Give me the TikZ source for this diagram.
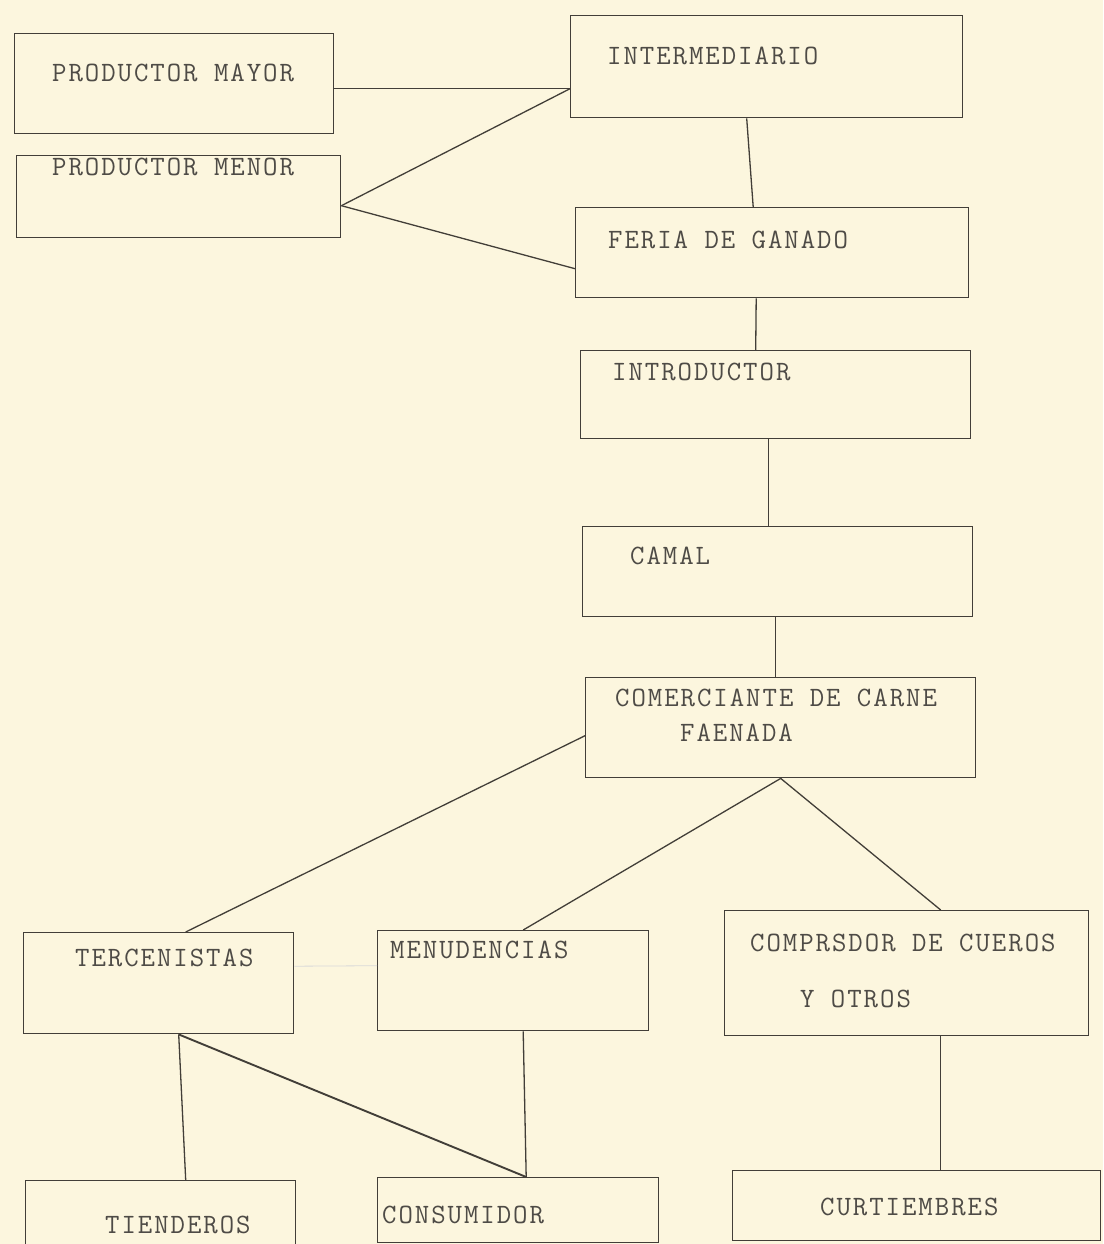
\documentclass[tikz,border=0pt]{standalone}
\usepackage{fontspec}
\newfontfamily\tw[LetterSpace=7]{Latin Modern Mono}
\usetikzlibrary{calc}
\definecolor{paper}{RGB}{252,246,222}
\definecolor{ink}{RGB}{66,62,56}
\definecolor{txt}{RGB}{78,75,70}
\tikzset{
  box/.style={draw=ink, line width=1.4pt, rectangle, anchor=north west, inner sep=0pt},
  lbl/.style={anchor=west, inner sep=0pt, text=txt, font=\tw\fontsize{28}{31}\selectfont},
  conn/.style={draw=ink, line width=1.3pt},
  faint/.style={draw=gray!30, line width=0.8pt},
}
\begin{document}
\begin{tikzpicture}[x=1pt,y=-1pt]
\useasboundingbox (0,0) rectangle (1103,1244);
\fill[paper] (0,0) rectangle (1103,1244);
\clip (0,0) rectangle (1103,1244);

% boxes
\node[box, minimum width=319pt, minimum height=100pt] (mayor)  at (14,33)   {};
\node[box, minimum width=324pt, minimum height=82pt]  (menor)  at (16,155)  {};
\node[box, minimum width=392pt, minimum height=102pt] (interm) at (570,15)  {};
\node[box, minimum width=393pt, minimum height=90pt]  (feria)  at (575,207) {};
\node[box, minimum width=390pt, minimum height=88pt]  (intro)  at (580,350) {};
\node[box, minimum width=390pt, minimum height=90pt]  (camal)  at (582,526) {};
\node[box, minimum width=390pt, minimum height=100pt] (comer)  at (585,677) {};
\node[box, minimum width=270pt, minimum height=101pt] (terc)   at (23,932)  {};
\node[box, minimum width=271pt, minimum height=100pt] (menu)   at (377,930) {};
\node[box, minimum width=364pt, minimum height=125pt] (comp)   at (724,910) {};
\node[box, minimum width=270pt, minimum height=72pt]  (tiend)  at (25,1180) {};
\node[box, minimum width=281pt, minimum height=65pt]  (cons)   at (377,1177) {};
\node[box, minimum width=368pt, minimum height=70pt]  (curt)   at (732,1170) {};

% texts
\node[lbl] (tmayor)  at (52,73)    {PRODUCTOR MAYOR};
\node[lbl] (tmenor)  at (52,167)   {PRODUCTOR MENOR};
\node[lbl] (tinterm) at (607,56)   {INTERMEDIARIO};
\node[lbl] (tferia)  at (608,240)  {FERIA DE GANADO};
\node[lbl] (tintro)  at (612,372)  {INTRODUCTOR};
\node[lbl] (tcamal)  at (630,556)  {CAMAL};
\node[lbl] (tcomer1) at (615,698)  {COMERCIANTE DE CARNE};
\node[lbl] (tcomer2) at (680,733)  {FAENADA};
\node[lbl] (tterc)   at (75,958)   {TERCENISTAS};
\node[lbl] (tmenu)   at (390,950)  {MENUDENCIAS};
\node[lbl] (tcomp1)  at (750,943)  {COMPRSDOR DE CUEROS};
\node[lbl] (tcomp2)  at (800,999)  {Y OTROS};
\node[lbl] (ttiend)  at (105,1225) {TIENDEROS};
\node[lbl] (tcons)   at (382,1215) {CONSUMIDOR};
\node[lbl] (tcurt)   at (820,1207) {CURTIEMBRES};

% connectors
\coordinate (j1) at ($(interm.west)+(0,22)$);
\coordinate (mr) at ($(menor.east)+(0,9)$);
\draw[conn] (mayor.east |- j1) -- (j1);
\draw[conn] (mr) -- (j1);
\draw[conn] (mr) -- ($(feria.west)+(0,16)$);
\draw[conn] ($(interm.south)+(-20,0)$) -- ($(feria.north)+(-19,0)$);
\draw[conn] ($(feria.south)+(-16,0)$) -- ($(intro.north)+(-20,0)$);
\draw[conn] ($(intro.south)+(-7,0)$) -- ($(camal.north)+(-9,0)$);
\draw[conn] ($(camal.south)+(-2,0)$) -- ($(comer.north)+(-5,0)$);
\draw[conn] (comer.south) -- ($(menu.north)+(10,0)$);
\draw[conn] (comer.south) -- ($(comp.north)+(34,0)$);
\draw[conn] ($(terc.north)+(27,0)$) -- ($(comer.west)+(0,8)$);
\coordinate (tb) at ($(terc.south)+(20,0)$);
\coordinate (cn) at ($(cons.north)+(8,0)$);
\draw[conn] (tb) -- ($(tiend.north)+(25,0)$);
\draw[conn, line width=1.9pt] (tb) -- (cn);
\draw[conn] ($(menu.south)+(10,0)$) -- (cn);
\draw[conn] ($(comp.south)+(34,0)$) -- ($(curt.north)+(24,0)$);
\draw[faint] ($(terc.east)+(0,-17)$) -- ($(menu.west)+(0,-15)$);
\end{tikzpicture}
\end{document}
